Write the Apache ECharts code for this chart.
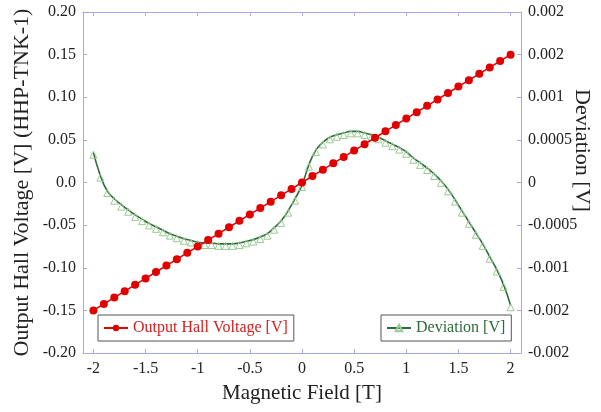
<!DOCTYPE html>
<html>
<head>
<meta charset="utf-8">
<script src="https://cdn.jsdelivr.net/npm/echarts@6/dist/echarts.min.js"></script>
<style>
  html, body { margin: 0; padding: 0; background: #fff; }
  #main { width: 601px; height: 412px; }
</style>
</head>
<body>
<div id="main"></div>
<script>
// magnetic field [T] for the hall voltage points
var hallField = [-2, -1.9, -1.8, -1.7, -1.6, -1.5, -1.4, -1.3, -1.2, -1.1, -1, -0.9, -0.8, -0.7, -0.6, -0.5, -0.4, -0.3, -0.2, -0.1,
  0, 0.1, 0.2, 0.3, 0.4, 0.5, 0.6, 0.7, 0.8, 0.9, 1, 1.1, 1.2, 1.3, 1.4, 1.5, 1.6, 1.7, 1.8, 1.9, 2];
var hallVoltage = [-0.15, -0.1425, -0.135, -0.1275, -0.12, -0.1125, -0.105, -0.0975, -0.09, -0.0825, -0.075, -0.0675, -0.06, -0.0525, -0.045, -0.0375, -0.03, -0.0225, -0.015, -0.0075,
  0, 0.0075, 0.015, 0.0225, 0.03, 0.0375, 0.045, 0.0525, 0.06, 0.0675, 0.075, 0.0825, 0.09, 0.0975, 0.105, 0.1125, 0.12, 0.1275, 0.135, 0.1425, 0.15];

// magnetic field [T] for the deviation points
var devField = [-2, -1.933, -1.867, -1.8, -1.733, -1.667, -1.6, -1.533, -1.467, -1.4, -1.333, -1.267, -1.2, -1.133, -1.067,
  -1, -0.933, -0.867, -0.8, -0.733, -0.667, -0.6, -0.533, -0.467, -0.4, -0.333, -0.267, -0.2, -0.133, -0.067,
  0, 0.067, 0.133, 0.2, 0.267, 0.333, 0.4, 0.467, 0.533, 0.6, 0.667, 0.733, 0.8, 0.867, 0.933,
  1, 1.067, 1.133, 1.2, 1.267, 1.333, 1.4, 1.467, 1.533, 1.6, 1.667, 1.733, 1.8, 1.867, 1.933, 2];
var deviation = [0.00035, 0.00008, -0.0001, -0.00019, -0.00026, -0.00032, -0.00038, -0.00043, -0.00048, -0.00052, -0.00056, -0.0006, -0.00063, -0.00066, -0.00068,
  -0.0007, -0.00071, -0.00071, -0.00072, -0.00072, -0.00072, -0.00071, -0.00069, -0.00067, -0.00064, -0.0006, -0.00053, -0.00045, -0.00033, -0.00019,
  -0.00003, 0.00021, 0.00038, 0.00047, 0.00053, 0.00056, 0.00058, 0.0006, 0.0006, 0.00058, 0.00056, 0.00053, 0.00049, 0.00045, 0.00041,
  0.00036, 0.00029, 0.00023, 0.00017, 0.0001, 0.00002, -0.00008, -0.0002, -0.00033, -0.00046, -0.00059, -0.00072, -0.00087, -0.00102, -0.0012, -0.00144];

// tick labels
var xTicks = [-2, -1.5, -1, -0.5, 0, 0.5, 1, 1.5, 2];
var leftTickLabels = ['-0.20', '-0.15', '-0.10', '-0.05', '0.0', '0.05', '0.10', '0.15', '0.20'];
var rightTickLabels = ['-0.002', '-0.002', '-0.001', '-0.0005', '0', '0.0005', '0.001', '0.002', '0.002'];

var myChart = echarts.init(document.getElementById('main'));

var serif = 'Liberation Serif';
var axisColor = '#a8a8e6';

var option = {
  animation: false,
  backgroundColor: '#fff',
  textStyle: { fontFamily: serif },
  grid: { left: 83, right: 80, top: 12, bottom: 59, containLabel: false, outerBoundsMode: 'none' },
  legend: [
    {
      data: ['Output Hall Voltage [V]'],
      left: 98, top: 315,
      borderColor: '#555', borderWidth: 1,
      padding: [5, 6, 5, 5],
      itemWidth: 24, itemHeight: 8,
      textStyle: { color: '#d42020', fontSize: 16, fontFamily: serif, lineHeight: 16 }
    },
    {
      data: ['Deviation [V]'],
      left: 381, top: 315,
      borderColor: '#555', borderWidth: 1,
      padding: [5, 6, 5, 5],
      itemWidth: 24, itemHeight: 8,
      textStyle: { color: '#2d6b3a', fontSize: 16, fontFamily: serif, lineHeight: 16 }
    }
  ],
  xAxis: [
    {
      type: 'value',
      min: -2.1, max: 2.1,
      name: 'Magnetic Field [T]',
      nameLocation: 'middle',
      nameGap: 30,
      nameMoveOverlap: false,
      nameTextStyle: { fontSize: 21, color: '#222', fontFamily: serif },
      axisLine: { onZero: false, lineStyle: { color: axisColor, width: 1 } },
      axisTick: { inside: true, length: 4, customValues: xTicks, lineStyle: { color: axisColor } },
      axisLabel: {
        customValues: xTicks, margin: 8, fontSize: 16, color: '#222', fontFamily: serif,
        formatter: function (v) { return String(v); }
      },
      splitLine: { show: false }
    },
    {
      type: 'value',
      position: 'top',
      min: -2.1, max: 2.1,
      axisLine: { show: true, onZero: false, lineStyle: { color: axisColor, width: 1 } },
      axisTick: { inside: true, length: 4, customValues: xTicks, lineStyle: { color: axisColor } },
      axisLabel: { show: false },
      splitLine: { show: false }
    }
  ],
  yAxis: [
    {
      type: 'value',
      min: -0.2, max: 0.2, interval: 0.05,
      name: 'Output Hall Voltage [V] (HHP-TNK-1)',
      nameLocation: 'middle',
      nameGap: 50,
      nameMoveOverlap: false,
      nameTextStyle: { fontSize: 22, color: '#222', fontFamily: serif },
      axisLine: { show: true, onZero: false, lineStyle: { color: axisColor, width: 1 } },
      axisTick: { inside: true, length: 4, lineStyle: { color: axisColor } },
      axisLabel: {
        margin: 7, fontSize: 16, color: '#222', fontFamily: serif,
        formatter: function (v) { return leftTickLabels[Math.round((v + 0.2) / 0.05)]; }
      },
      splitLine: { show: false }
    },
    {
      type: 'value',
      position: 'right',
      min: -0.002, max: 0.002, interval: 0.0005,
      name: 'Deviation [V]',
      nameLocation: 'middle',
      nameRotate: -90,
      nameGap: 50,
      nameMoveOverlap: false,
      nameTextStyle: { fontSize: 22, color: '#222', fontFamily: serif, padding: [0, 64, 0, 0] },
      axisLine: { show: true, onZero: false, lineStyle: { color: axisColor, width: 1 } },
      axisTick: { inside: true, length: 4, lineStyle: { color: axisColor } },
      axisLabel: {
        margin: 7, fontSize: 16, color: '#222', fontFamily: serif,
        formatter: function (v) { return rightTickLabels[Math.round((v + 0.002) / 0.0005)]; }
      },
      splitLine: { show: false }
    }
  ],
  series: [
    {
      name: 'Deviation [V]',
      type: 'line',
      yAxisIndex: 1,
      smooth: true,
      symbol: 'triangle',
      symbolSize: 7,
      symbolOffset: [0, 2],
      itemStyle: { color: 'rgba(255,255,255,0)', borderColor: '#9acb92', borderWidth: 1 },
      lineStyle: { color: '#2d6b3a', width: 1.6 },
      z: 2,
      data: devField.map(function (b, i) { return [b, deviation[i]]; })
    },
    {
      name: 'Output Hall Voltage [V]',
      type: 'line',
      yAxisIndex: 0,
      symbol: 'circle',
      symbolSize: 8,
      itemStyle: { color: '#e00000' },
      lineStyle: { color: '#e00000', width: 1.5 },
      z: 3,
      data: hallField.map(function (b, i) { return [b, hallVoltage[i]]; })
    }
  ]
};

myChart.setOption(option);
</script>
</body>
</html>
